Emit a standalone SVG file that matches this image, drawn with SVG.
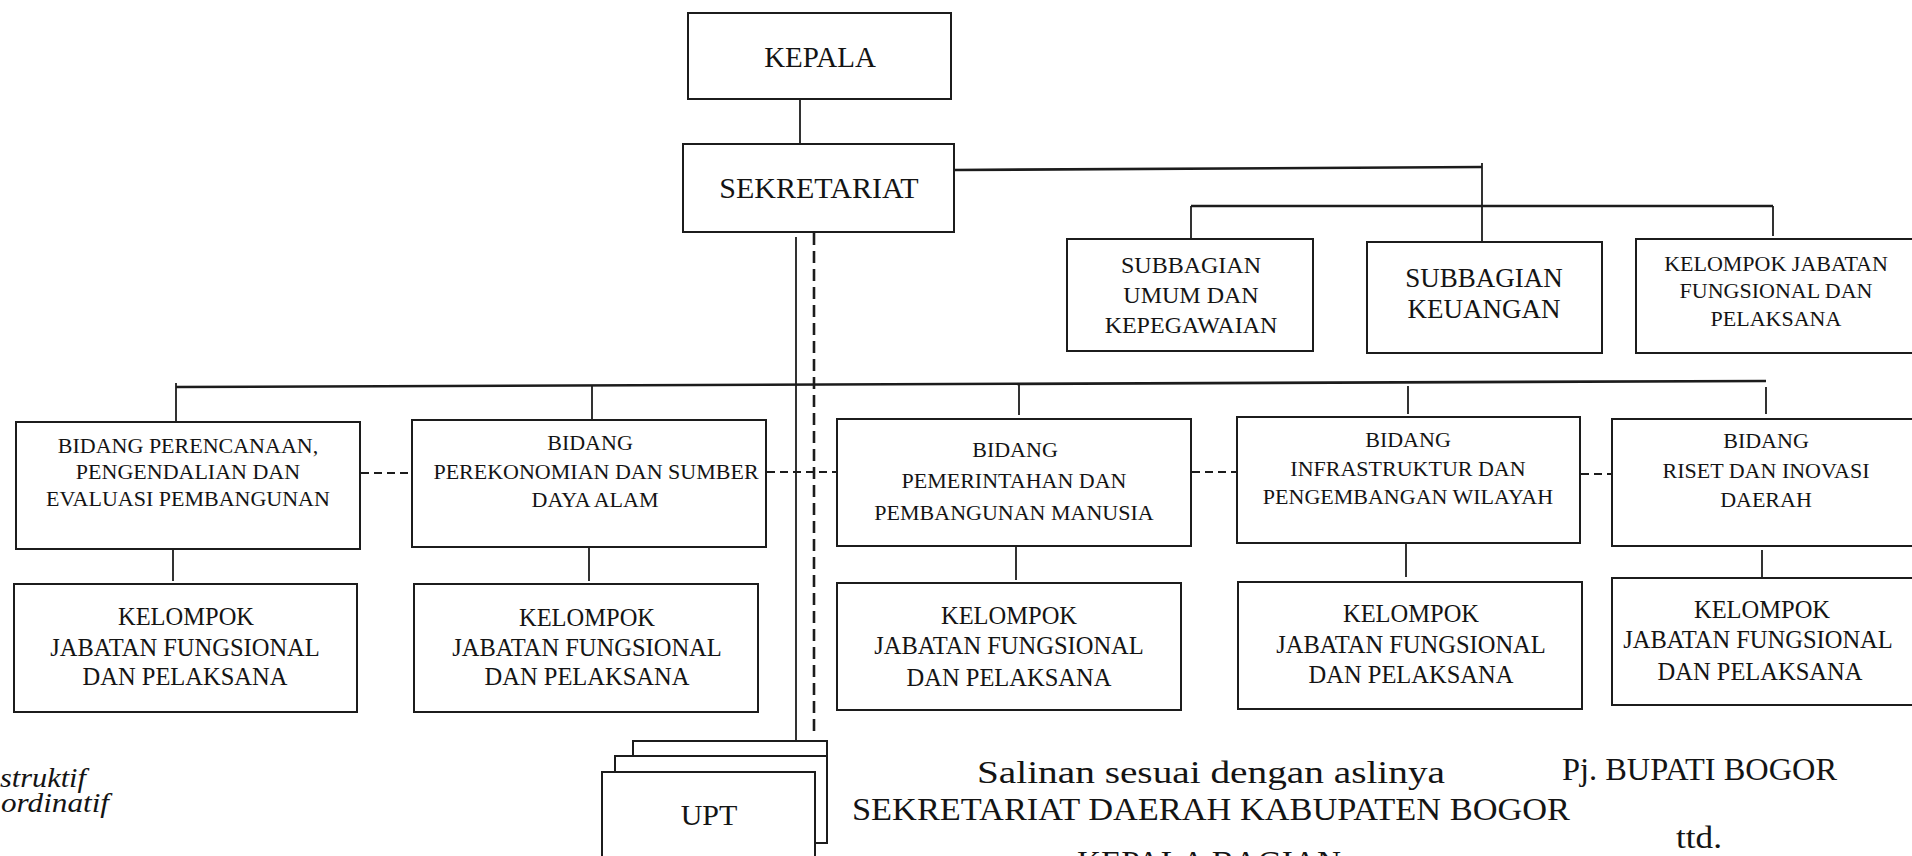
<svg xmlns="http://www.w3.org/2000/svg" width="1912" height="856" viewBox="0 0 1912 856">
<style>
  .box { fill: #fff; stroke: #1c1c1c; stroke-width: 2; }
  .ln { fill: none; stroke: #1c1c1c; stroke-width: 1.8; }
  .thick { fill: none; stroke: #1c1c1c; stroke-width: 2.6; }
  .dash { fill: none; stroke: #1c1c1c; stroke-width: 2; stroke-dasharray: 8 5; }
  .vdash { fill: none; stroke: #1c1c1c; stroke-width: 2.6; stroke-dasharray: 12 6; }
  text { font-family: "Liberation Serif", "Times New Roman", serif; fill: #141414; text-anchor: middle; }
  .t22 { font-size: 22px; }
  .t24 { font-size: 24.5px; }
  .t27 { font-size: 27px; }
  .t30 { font-size: 30px; }
  .foot { font-size: 32px; text-anchor: start; }
  .leg { font-size: 27px; font-style: italic; text-anchor: start; }
</style>
<rect x="0" y="0" width="1912" height="856" fill="#fff"/>

<g id="connectors">
  <line class="ln" x1="800" y1="99" x2="800" y2="144"/>
  <polyline class="thick" points="954,170 1482,167"/>
  <line class="ln" x1="1482" y1="163" x2="1482" y2="242"/>
  <line class="thick" x1="1191" y1="206" x2="1773" y2="206"/>
  <line class="ln" x1="1191" y1="206" x2="1191" y2="239"/>
  <line class="ln" x1="1773" y1="206" x2="1773" y2="236"/>
  <line class="thick" x1="176" y1="387" x2="1766" y2="381"/>
  <line class="ln" x1="176" y1="383" x2="176" y2="422"/>
  <line class="ln" x1="592" y1="386" x2="592" y2="420"/>
  <line class="ln" x1="1019" y1="384" x2="1019" y2="415"/>
  <line class="ln" x1="1408" y1="386" x2="1408" y2="414"/>
  <line class="ln" x1="1766" y1="387" x2="1766" y2="414"/>
  <line class="ln" x1="173" y1="549" x2="173" y2="581"/>
  <line class="ln" x1="589" y1="547" x2="589" y2="581"/>
  <line class="ln" x1="1016" y1="546" x2="1016" y2="580"/>
  <line class="ln" x1="1406" y1="543" x2="1406" y2="577"/>
  <line class="ln" x1="1762" y1="550" x2="1762" y2="577"/>
  <line class="ln" x1="796" y1="237" x2="796" y2="741"/>
  <line class="vdash" x1="814" y1="233" x2="814" y2="736"/>
  <line class="dash" x1="361" y1="473" x2="412" y2="473"/>
  <line class="dash" x1="767" y1="472" x2="837" y2="472"/>
  <line class="dash" x1="1192" y1="472" x2="1236" y2="472"/>
  <line class="dash" x1="1581" y1="474" x2="1612" y2="474"/>
</g>

<g id="kepala">
  <rect class="box" x="688" y="13" width="263" height="86"/>
  <text class="t30" x="820" y="67" style="font-size:29px">KEPALA</text>
</g>
<g id="sekretariat">
  <rect class="box" x="683" y="144" width="271" height="88"/>
  <text class="t30" x="819" y="198">SEKRETARIAT</text>
</g>

<g id="subbagian-umum">
  <rect class="box" x="1067" y="239" width="246" height="112"/>
  <text class="t22" x="1191" y="273" style="font-size:24px">SUBBAGIAN</text>
  <text class="t22" x="1191" y="303" style="font-size:24px">UMUM DAN</text>
  <text class="t22" x="1191" y="333" style="font-size:24px">KEPEGAWAIAN</text>
</g>
<g id="subbagian-keuangan">
  <rect class="box" x="1367" y="242" width="235" height="111"/>
  <text class="t27" x="1484" y="287">SUBBAGIAN</text>
  <text class="t27" x="1484" y="318">KEUANGAN</text>
</g>
<g id="kelompok-sekretariat">
  <rect class="box" x="1636" y="239" width="290" height="114"/>
  <text class="t22" x="1776" y="271">KELOMPOK JABATAN</text>
  <text class="t22" x="1776" y="298">FUNGSIONAL DAN</text>
  <text class="t22" x="1776" y="326">PELAKSANA</text>
</g>

<g id="bidang-perencanaan">
  <rect class="box" x="16" y="422" width="344" height="127"/>
  <text class="t22" x="188" y="453">BIDANG PERENCANAAN,</text>
  <text class="t22" x="188" y="479">PENGENDALIAN DAN</text>
  <text class="t22" x="188" y="506">EVALUASI PEMBANGUNAN</text>
</g>
<g id="bidang-perekonomian">
  <rect class="box" x="412" y="420" width="354" height="127"/>
  <text class="t22" x="590" y="450">BIDANG</text>
  <text class="t22" x="596" y="479">PEREKONOMIAN DAN SUMBER</text>
  <text class="t22" x="595" y="507">DAYA ALAM</text>
</g>
<g id="bidang-pemerintahan">
  <rect class="box" x="837" y="419" width="354" height="127"/>
  <text class="t22" x="1015" y="457">BIDANG</text>
  <text class="t22" x="1014" y="488">PEMERINTAHAN DAN</text>
  <text class="t22" x="1014" y="520">PEMBANGUNAN MANUSIA</text>
</g>
<g id="bidang-infrastruktur">
  <rect class="box" x="1237" y="417" width="343" height="126"/>
  <text class="t22" x="1408" y="447">BIDANG</text>
  <text class="t22" x="1408" y="476">INFRASTRUKTUR DAN</text>
  <text class="t22" x="1408" y="504">PENGEMBANGAN WILAYAH</text>
</g>
<g id="bidang-riset">
  <rect class="box" x="1612" y="419" width="310" height="127"/>
  <text class="t22" x="1766" y="448">BIDANG</text>
  <text class="t22" x="1766" y="478">RISET DAN INOVASI</text>
  <text class="t22" x="1766" y="507">DAERAH</text>
</g>

<g id="kelompok-perencanaan">
  <rect class="box" x="14" y="584" width="343" height="128"/>
  <text class="t24" x="186" y="625">KELOMPOK</text>
  <text class="t24" x="185" y="656">JABATAN FUNGSIONAL</text>
  <text class="t24" x="185" y="685">DAN PELAKSANA</text>
</g>
<g id="kelompok-perekonomian">
  <rect class="box" x="414" y="584" width="344" height="128"/>
  <text class="t24" x="587" y="626">KELOMPOK</text>
  <text class="t24" x="587" y="656">JABATAN FUNGSIONAL</text>
  <text class="t24" x="587" y="685">DAN PELAKSANA</text>
</g>
<g id="kelompok-pemerintahan">
  <rect class="box" x="837" y="583" width="344" height="127"/>
  <text class="t24" x="1009" y="624">KELOMPOK</text>
  <text class="t24" x="1009" y="654">JABATAN FUNGSIONAL</text>
  <text class="t24" x="1009" y="686">DAN PELAKSANA</text>
</g>
<g id="kelompok-infrastruktur">
  <rect class="box" x="1238" y="582" width="344" height="127"/>
  <text class="t24" x="1411" y="622">KELOMPOK</text>
  <text class="t24" x="1411" y="653">JABATAN FUNGSIONAL</text>
  <text class="t24" x="1411" y="683">DAN PELAKSANA</text>
</g>
<g id="kelompok-riset">
  <rect class="box" x="1612" y="578" width="310" height="127"/>
  <text class="t24" x="1762" y="618">KELOMPOK</text>
  <text class="t24" x="1758" y="648">JABATAN FUNGSIONAL</text>
  <text class="t24" x="1760" y="680">DAN PELAKSANA</text>
</g>

<g id="upt">
  <polyline class="ln" points="633,756 633,741 827,741 827,756" style="stroke-width:2"/>
  <polyline class="ln" points="615,772 615,756 827,756 827,843 815,843" style="stroke-width:2"/>
  <rect class="box" x="602" y="772" width="213" height="100"/>
  <text class="t30" x="709" y="825">UPT</text>
</g>

<g id="legend">
  <text class="leg" x="0" y="787" textLength="86" lengthAdjust="spacingAndGlyphs">struktif</text>
  <text class="leg" x="1" y="812" textLength="108" lengthAdjust="spacingAndGlyphs">ordinatif</text>
</g>

<g id="footer">
  <text class="foot" x="977" y="783" textLength="468" lengthAdjust="spacingAndGlyphs">Salinan sesuai dengan aslinya</text>
  <text class="foot" x="852" y="820" textLength="718" lengthAdjust="spacingAndGlyphs">SEKRETARIAT DAERAH KABUPATEN BOGOR</text>
  <text class="foot" x="1077" y="873" textLength="264" lengthAdjust="spacingAndGlyphs">KEPALA BAGIAN</text>
  <text class="foot" x="1562" y="780" style="font-size:31px" textLength="275" lengthAdjust="spacingAndGlyphs">Pj. BUPATI BOGOR</text>
  <text class="foot" x="1676" y="848" style="font-size:31px" textLength="46" lengthAdjust="spacingAndGlyphs">ttd.</text>
</g>
</svg>
